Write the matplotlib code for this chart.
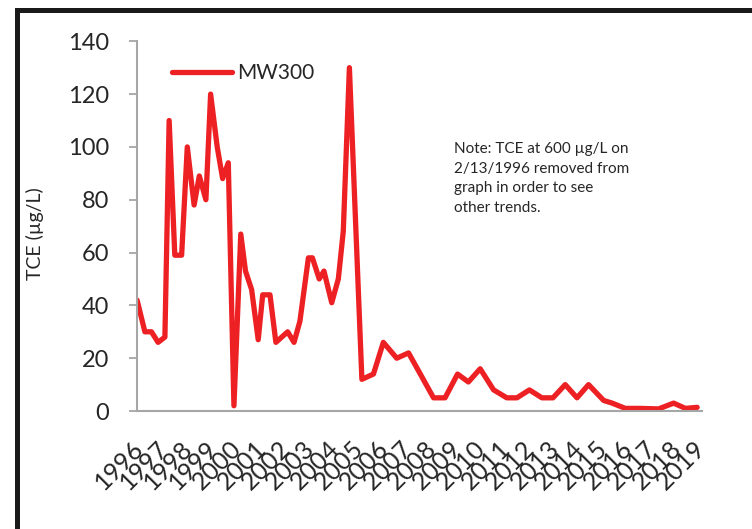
import matplotlib
matplotlib.use("Agg")
import matplotlib.pyplot as plt
from matplotlib.lines import Line2D

plt.rcParams["font.family"] = ["Lato", "DejaVu Sans"]

# sample dates (decimal years) and TCE concentrations (ug/L) for MW300
dates = [
    1996.01, 1996.34, 1996.62, 1996.90, 1997.19, 1997.37, 1997.61, 1997.90,
    1998.14, 1998.43, 1998.65, 1998.93, 1999.13, 1999.41, 1999.64, 1999.88,
    2000.12, 2000.41, 2000.61, 2000.87, 2001.15, 2001.34, 2001.65, 2001.90,
    2002.40, 2002.67, 2002.92, 2003.28, 2003.45, 2003.74, 2003.94, 2004.27,
    2004.55, 2004.76, 2005.02, 2005.55, 2006.04, 2006.46, 2007.03, 2007.53,
    2008.03, 2008.59, 2009.08, 2009.61, 2010.07, 2010.57, 2011.14, 2011.70,
    2012.13, 2012.66, 2013.19, 2013.66, 2014.18, 2014.68, 2015.17, 2015.81,
    2016.17, 2016.73, 2017.37, 2018.14, 2018.78, 2019.28, 2019.78,
]
tce = [
    42, 30, 30, 26, 28, 110, 59, 59,
    100, 78, 89, 80, 120, 100, 88, 94,
    2, 67, 53, 46, 27, 44, 44, 26,
    30, 26, 34, 58, 58, 50, 53, 41,
    50, 68, 130, 12, 14, 26, 20, 22,
    14, 5, 5, 14, 11, 16, 8, 5,
    5, 8, 5, 5, 10, 5, 10, 4,
    3, 1, 1, 0.8, 3, 1, 1.4,
]
year_labels = [str(y) for y in range(1996, 2020)]
y_ticks = [0, 20, 40, 60, 80, 100, 120, 140]

RED = "#ED2024"
GRAY = "#A6A6A6"
TEXT = "#262626"

fig = plt.figure(figsize=(7.52, 5.29), dpi=100)
ax = fig.add_axes([0.182, 0.223, 0.752, 0.699])

ax.plot(dates, tce, color=RED, lw=3.8, solid_joinstyle="round",
        solid_capstyle="round", label="MW300")

ax.set_xlim(1996, 2020)
ax.set_ylim(0, 140)
ax.set_yticks(y_ticks)
ax.set_xticks([])
ax.tick_params(axis="y", length=6, width=1.3, color=GRAY, pad=14,
               labelsize=17, labelcolor=TEXT)
for side in ("top", "right"):
    ax.spines[side].set_visible(False)
for side in ("left", "bottom"):
    ax.spines[side].set_color(GRAY)
    ax.spines[side].set_linewidth(1.5)

ax.set_ylabel("TCE (µg/L)", fontsize=14, color=TEXT)
ax.yaxis.set_label_coords(-0.165, 0.48)

# crowded, rotated year labels as in the original
for i, lab in enumerate(year_labels):
    ax.text((-5 + 24.4 * i) / 565, -0.07, lab, transform=ax.transAxes,
            rotation=45, rotation_mode="anchor", ha="right", va="top",
            fontsize=18, color=TEXT, clip_on=False)

ax.legend(loc="center left", bbox_to_anchor=(0.062, 0.9135), frameon=False,
          fontsize=15, handlelength=2.9, handletextpad=0.25, borderpad=0,
          borderaxespad=0, labelcolor=TEXT)

ax.text(0.561, 0.728,
        "Note: TCE at 600 µg/L on\n2/13/1996 removed from\ngraph in order to see\nother trends.",
        transform=ax.transAxes, fontsize=11, color=TEXT, va="top", ha="left",
        linespacing=1.53)

# black frame on top and left edges
fig.add_artist(Line2D([0.022, 1.0], [0.982, 0.982], color="#1A1A1A", lw=3.6,
                      transform=fig.transFigure, solid_capstyle="projecting"))
fig.add_artist(Line2D([0.022, 0.022], [0.0, 0.982], color="#1A1A1A", lw=3.6,
                      transform=fig.transFigure, solid_capstyle="projecting"))

fig.savefig("out.png", dpi=100)
